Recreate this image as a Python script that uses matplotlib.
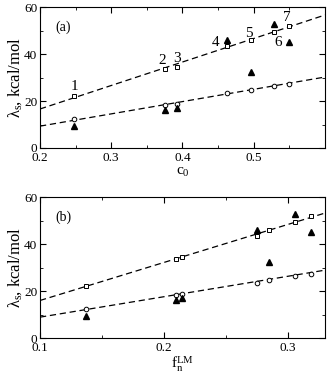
import numpy as np
import matplotlib
matplotlib.use('Agg')
import matplotlib.pyplot as plt
from matplotlib.ticker import MultipleLocator

plt.rcParams['font.family'] = ['Liberation Serif', 'DejaVu Serif']
plt.rcParams['mathtext.fontset'] = 'custom'
plt.rcParams['mathtext.rm'] = 'Liberation Serif'
plt.rcParams['mathtext.it'] = 'Liberation Serif'

# data
c0 = [0.248, 0.375, 0.3925, 0.463, 0.496, 0.529, 0.549]
fn = [0.137, 0.210, 0.215, 0.275, 0.285, 0.306, 0.319]
sq = [22.0, 33.6, 34.5, 43.6, 45.8, 49.4, 51.8]
circ = [12.2, 18.3, 18.9, 23.6, 24.7, 26.5, 27.2]
tri = [9.4, 16.2, 16.9, 46.0, 32.2, 52.8, 45.2]
labels = ['1', '2', '3', '4', '5', '6', '7']
lab_x = [0.248, 0.371, 0.3925, 0.4465, 0.4935, 0.534, 0.546]
lab_y = [26.0, 37.3, 38.3, 44.7, 48.6, 45.1, 55.5]

# dashed fit lines (end points)
fit_a_x = [0.2, 0.6]
fit_a_up = [16.6, 56.6]
fit_a_lo = [9.3, 30.2]
fit_b_x = [0.1, 0.33]
fit_b_up = [16.0, 53.2]
fit_b_lo = [8.9, 28.9]

fig = plt.figure(figsize=(3.27, 3.79), dpi=100)
ax1 = fig.add_axes([0.1223, 0.6095, 0.8716, 0.372])
ax2 = fig.add_axes([0.1223, 0.108, 0.8716, 0.372])

def style(ax):
    ax.tick_params(which='both', direction='in', top=True, right=True, labelsize=9.5)
    ax.tick_params(axis='x', pad=3)
    ax.tick_params(axis='y', pad=2)
    ax.tick_params(which='major', length=4)
    ax.tick_params(which='minor', length=2)
    ax.set_ylim(0, 60)
    ax.yaxis.set_major_locator(MultipleLocator(20))
    ax.yaxis.set_minor_locator(MultipleLocator(10))
    ax.set_ylabel(r'$\lambda_{\rm s}$, kcal/mol', fontsize=12, labelpad=0)

def marks(ax, x):
    ax.plot(x, sq, 's', ms=3, mfc='white', mec='k', mew=0.7, ls='none')
    ax.plot(x, circ, 'o', ms=3.3, mfc='white', mec='k', mew=0.7, ls='none')
    ax.plot(x, tri, '^', ms=4.3, color='k', ls='none')

ax1.plot(fit_a_x, fit_a_up, 'k--', lw=0.9, dashes=(5, 3))
ax1.plot(fit_a_x, fit_a_lo, 'k--', lw=0.9, dashes=(5, 3))
marks(ax1, c0)
for t, x, y in zip(labels, lab_x, lab_y):
    ax1.text(x, y, t, fontsize=11, ha='center', va='center')
ax1.text(0.222, 51.5, '(a)', fontsize=10, ha='left', va='center')
ax1.set_xlim(0.2, 0.6)
ax1.set_xticks([0.2, 0.3, 0.4, 0.5])
ax1.set_xticklabels(['0.2', '0.3', '0.4', '0.5'])
ax1.xaxis.set_minor_locator(MultipleLocator(0.05))
ax1.set_xlabel(r'c$_0$', fontsize=11, labelpad=1)
style(ax1)

ax2.plot(fit_b_x, fit_b_up, 'k--', lw=0.9, dashes=(5, 3))
ax2.plot(fit_b_x, fit_b_lo, 'k--', lw=0.9, dashes=(5, 3))
marks(ax2, fn)
ax2.text(0.1125, 51.5, '(b)', fontsize=10, ha='left', va='center')
ax2.set_xlim(0.1, 0.33)
ax2.set_xticks([0.1, 0.2, 0.3])
ax2.set_xticklabels(['0.1', '0.2', '0.3'])
ax2.xaxis.set_minor_locator(MultipleLocator(0.05))
ax2.set_xlabel(r'f$_{\rm n}^{\rm LM}$', fontsize=11, labelpad=0)
style(ax2)

fig.savefig('out.png', dpi=100)
